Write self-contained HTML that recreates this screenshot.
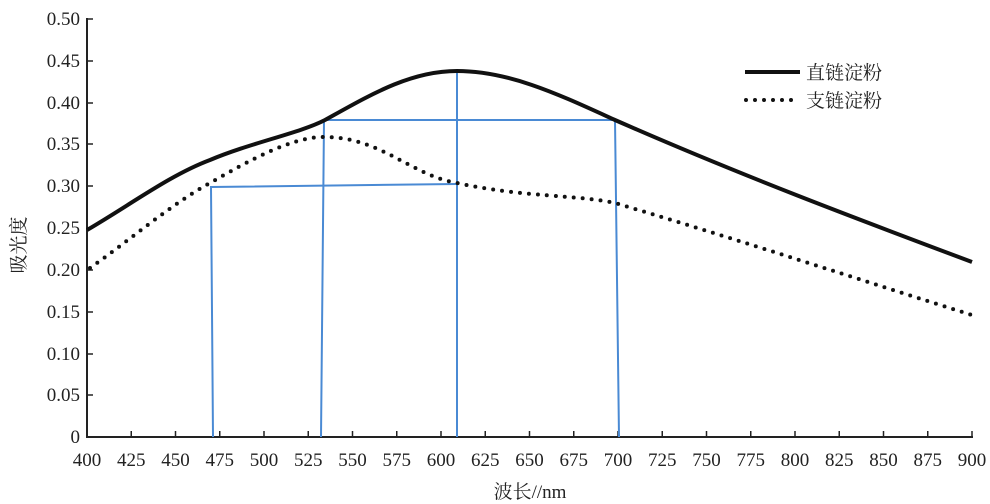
<!DOCTYPE html><html><head><meta charset="utf-8"><style>body{margin:0;background:#fff}svg{display:block}text{font-family:"Liberation Serif","Noto Serif CJK SC",serif;font-size:19px;fill:#222}</style></head><body>
<svg width="990" height="504" xmlns="http://www.w3.org/2000/svg">
<g stroke="#222" stroke-width="2" fill="none">
<line x1="87" y1="18" x2="87" y2="438"/><line x1="86" y1="437" x2="973" y2="437"/>
</g>
<g stroke="#222" stroke-width="1.5">
<line x1="87" y1="19" x2="93" y2="19"/><line x1="87" y1="61" x2="93" y2="61"/><line x1="87" y1="103" x2="93" y2="103"/><line x1="87" y1="144" x2="93" y2="144"/><line x1="87" y1="186" x2="93" y2="186"/><line x1="87" y1="228" x2="93" y2="228"/><line x1="87" y1="270" x2="93" y2="270"/><line x1="87" y1="312" x2="93" y2="312"/><line x1="87" y1="354" x2="93" y2="354"/><line x1="87" y1="395" x2="93" y2="395"/>
</g>
<g stroke="#222" stroke-width="1.5" id="xt"></g>
<g text-anchor="end">
<text x="80" y="25">0.50</text><text x="80" y="67">0.45</text><text x="80" y="109">0.40</text><text x="80" y="150">0.35</text><text x="80" y="192">0.30</text><text x="80" y="234">0.25</text><text x="80" y="276">0.20</text><text x="80" y="318">0.15</text><text x="80" y="360">0.10</text><text x="80" y="401">0.05</text><text x="80" y="443">0</text>
</g>
<g text-anchor="middle" id="xl"></g>
<text x="530" y="498" text-anchor="middle">波长//nm</text>
<text transform="translate(25,245) rotate(-90)" text-anchor="middle">吸光度</text>
<g stroke="#4a8ad4" stroke-width="2" fill="none">
<polyline points="213,437 211,187 457,184"/>
<line x1="457" y1="437" x2="457" y2="71"/>
<polyline points="321,437 324,120 615,120 619,437"/>
</g>
<path d="M87,230 C130,205 170,175 210,160 C250,143 300,133 325,120 C370,95 410,71 457,71 C510,71 560,95 615,120 C740,175 860,220 972,262" stroke="#111" stroke-width="4" fill="none"/>
<path d="M90,268 C130,240 170,205 210,183 C250,160 290,138 322,137 C380,136 410,175 457,183 C520,197 580,195 615,203 C740,240 860,280 972,315" stroke="#111" stroke-width="4" stroke-linecap="round" stroke-dasharray="0 9" fill="none"/>
<line x1="745" y1="72" x2="800" y2="72" stroke="#111" stroke-width="4"/>
<line x1="746" y1="100" x2="800" y2="100" stroke="#111" stroke-width="4" stroke-linecap="round" stroke-dasharray="0 9"/>
<text x="806" y="79">直链淀粉</text><text x="806" y="107">支链淀粉</text>
<script>
var xt=document.getElementById('xt'),xl=document.getElementById('xl'),ns='http://www.w3.org/2000/svg';
for(var i=0;i<=20;i++){var x=87+i*44.25;var l=document.createElementNS(ns,'line');l.setAttribute('x1',x);l.setAttribute('x2',x);l.setAttribute('y1',431);l.setAttribute('y2',437);xt.appendChild(l);
var t=document.createElementNS(ns,'text');t.setAttribute('x',x);t.setAttribute('y',466);t.textContent=400+i*25;xl.appendChild(t);}
</script>
</svg></body></html>
